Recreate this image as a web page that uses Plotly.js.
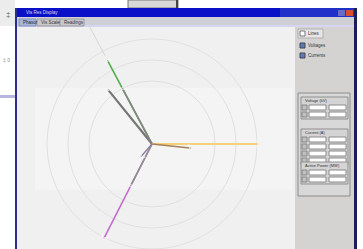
<!DOCTYPE html>
<html>
<head>
<meta charset="utf-8">
<script src="https://cdn.plot.ly/plotly-3.0.1.min.js"></script>
<style>html,body{margin:0;padding:0;background:#fff;}#chart{width:363px;height:249px;}</style>
</head>
<body>
<div id="chart"></div>
<script>
// ---- data (phasor magnitudes in display units, angles in degrees) ----
const phasorNames = ['Va', 'Vb', 'Va (inner)', 'Vc', 'Ia', 'Ic', 'Ic (inner)', 'Ib'];
const phasorMagnitudes = [96, 71, 64, 108, 40, 107, 48, 18];
const phasorAngles = [118, 129, 118, 0, -6, 243, 243, 229];
const ringRadii = [63, 84, 105];
const referenceLine = {from: 100, to: 135, angle: 118};
const windowTitle = 'Vis Res Display';
const tabLabels = ['Phasor', 'Vis Scale', 'Readings'];
const optionLabels = ['Lines', 'Voltages', 'Currents'];
const groupLabels = ['Voltage (kV)', 'Current (A)', 'Active Power (MW)'];

// ---- styles ----
const phasorColors = ['#55b04f', '#767676', '#858585', '#f1d27a', '#a5805a', '#c36ccc', '#8e8e8e', '#8c7c9c'];
const phasorWidths = [1.6, 2.2, 1.6, 2, 1.6, 1.6, 1.6, 1.4];

const W = 363, H = 249;
const px = x => x / W;
const py = y => 1 - y / H;
const shapes = [];
const annotations = [];
function rect(x0, y0, x1, y1, fill, line, lw) {
  shapes.push({type: 'rect', xref: 'paper', yref: 'paper', layer: 'below',
    x0: px(x0), x1: px(x1), y0: py(y1), y1: py(y0), fillcolor: fill,
    line: {color: line || fill, width: lw === undefined ? (line ? 1 : 0) : lw}});
}
function text(x, y, t, color, size, anchor) {
  annotations.push({xref: 'paper', yref: 'paper', x: px(x), y: py(y), text: t, showarrow: false,
    xanchor: anchor || 'left', yanchor: 'middle', font: {family: 'Liberation Sans, Arial', size: size || 5, color: color || '#222'}});
}

// background application window (behind)
rect(0, 0, 15, 26, '#ececec');
text(4, 15, '‡', '#666', 8);
text(1, 60, '‡ 0', '#888', 5);
rect(0, 95, 15, 98, '#b8b4e0');
rect(128, 0, 178, 8, '#d8d8d8', '#777');
rect(176, 0, 178, 8, '#444');

// main window frame
rect(15, 8, 357, 249, '#f0f0f0');
rect(15, 8, 17, 249, '#2a2f8a');
rect(354, 8, 357, 249, '#1a1f5a');
rect(17, 8, 354, 17, '#0a10c8');
rect(280, 8, 354, 17, '#2030c8');
rect(338, 10, 345, 16, '#6a6ac8');
rect(346, 10, 353, 16, '#d05030');
text(24, 13, windowTitle, '#dde', 4.5);
rect(17, 17, 354, 26, '#cfcfd6');
rect(17, 25, 354, 27, '#d8d4f4');
rect(19, 19, 36, 26, '#a9b6d8', '#8090c0');
rect(37, 19, 60, 26, '#c8c8cc', '#9a9aa0');
rect(60, 19, 84, 26, '#c8c8cc', '#9a9aa0');
text(21, 22.5, tabLabels[0], '#223', 4.5);
text(39, 22.5, tabLabels[1], '#334', 4.5);
text(62, 22.5, tabLabels[2], '#334', 4.5);

// right control panel
rect(295, 27, 354, 249, '#d4d3d1');
rect(298, 29, 323, 38, '#e6e6e6', '#b0b0b0');
rect(300, 31, 305, 36, '#ffffff', '#777');
text(306, 33.5, optionLabels[0], '#333', 4.5);
rect(300, 43, 305, 48, '#5a7ab8', '#445');
text(306, 45.5, optionLabels[1], '#333', 4.5);
rect(300, 53, 305, 58, '#5a7ab8', '#445');
text(306, 55.5, optionLabels[2], '#333', 4.5);
rect(298, 93, 350, 196, '#d8d8d8', '#8c8c8c');
const groups = [[97, 2], [129, 4], [162, 2]];
groups.forEach((g, gi) => {
  const top = g[0], rows = g[1];
  const bottom = top + 8 + rows * 7;
  rect(301, top, 348, bottom, '#d4d4d4', '#909090');
  text(303, top + 3, groupLabels[gi], '#333', 4);
  for (let r = 0; r < rows; r++) {
    const y = top + 8 + r * 7;
    rect(302, y, 307, y + 5, '#c0c0c0', '#888');
    rect(309, y, 326, y + 5, '#ffffff', '#888');
    rect(329, y, 346, y + 5, '#ffffff', '#888');
  }
});

// rings drawn through the data axes
ringRadii.forEach(r => {
  shapes.push({type: 'circle', xref: 'x', yref: 'y', layer: 'below', x0: -r, x1: r, y0: -r, y1: r,
    line: {color: '#e0e0e0', width: 1}});
});
// faint brighter band like the original capture
rect(35, 88, 292, 190, 'rgba(255,255,255,0.3)', null, 0);

const rad = d => d * Math.PI / 180;
const traces = [];
traces.push({
  x: [referenceLine.from * Math.cos(rad(referenceLine.angle)), referenceLine.to * Math.cos(rad(referenceLine.angle))],
  y: [referenceLine.from * Math.sin(rad(referenceLine.angle)), referenceLine.to * Math.sin(rad(referenceLine.angle))],
  mode: 'lines', line: {color: '#d6d6d6', width: 1}, hoverinfo: 'skip'
});
phasorNames.forEach((n, i) => {
  const m = phasorMagnitudes[i], a = rad(phasorAngles[i]);
  traces.push({
    name: n, x: [0, m * Math.cos(a)], y: [0, m * Math.sin(a)],
    mode: 'lines+markers',
    line: {color: phasorColors[i], width: phasorWidths[i]},
    marker: {size: [0, 5], symbol: 'arrow-wide', angleref: 'previous', color: phasorColors[i]}
  });
});

Plotly.newPlot('chart', traces, {
  width: W, height: H, margin: {l: 0, r: 0, t: 0, b: 0},
  paper_bgcolor: '#ffffff', plot_bgcolor: 'rgba(0,0,0,0)',
  showlegend: false,
  xaxis: {range: [-152, 211], visible: false, fixedrange: true},
  yaxis: {range: [-105, 144], visible: false, fixedrange: true},
  shapes: shapes, annotations: annotations
}, {staticPlot: true, displayModeBar: false});
</script>
</body>
</html>
